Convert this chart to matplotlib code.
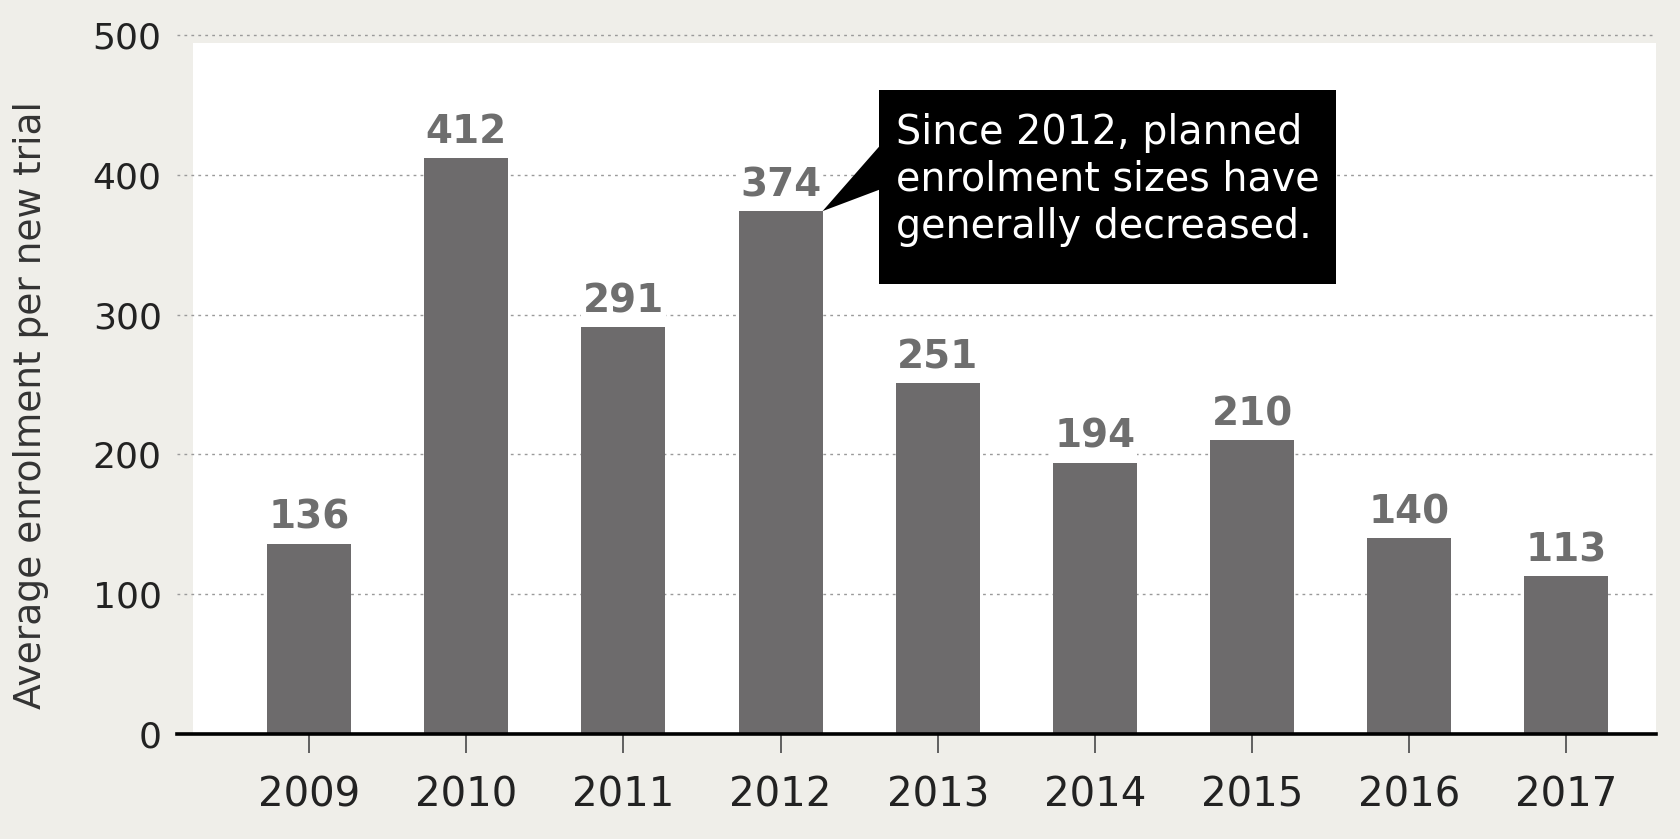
import matplotlib
matplotlib.use("Agg")
import matplotlib.pyplot as plt
from matplotlib.patches import Rectangle, Polygon

years = ["2009", "2010", "2011", "2012", "2013", "2014", "2015", "2016", "2017"]
enrolment = [136, 412, 291, 374, 251, 194, 210, 140, 113]
y_ticks = [0, 100, 200, 300, 400, 500]
y_label = "Average enrolment per new trial"
note_lines = ["Since 2012, planned", "enrolment sizes have", "generally decreased."]
note_year = "2012"

W, H = 1681, 839
fig = plt.figure(figsize=(W / 100, H / 100), dpi=100)
fig.patch.set_facecolor("#efeee9")

# white panel (background axes)
bg = fig.add_axes([193 / W, 1 - 734 / H, (1656 - 193) / W, (734 - 43) / H], zorder=-5)
bg.set_facecolor("white")
bg.set_xticks([]); bg.set_yticks([])
for s in bg.spines.values():
    s.set_visible(False)

ax = fig.add_axes([177 / W, 1 - 734 / H, (1656 - 177) / W, (734 - 35) / H], zorder=1)
ax.set_facecolor("none")

x = list(range(len(years)))
bar_w = 0.534
ax.bar(x, enrolment, width=bar_w, color="#6d6b6c", zorder=3)

ax.set_xlim(-0.84, 8.57)
ax.set_ylim(0, 500)

# grid
for t in y_ticks[1:]:
    ax.axhline(t, color="#9a9a9a", lw=1.0, ls=(0, (2, 3)), zorder=1, clip_on=False)

for s in ["left", "right", "top"]:
    ax.spines[s].set_visible(False)
ax.spines["bottom"].set_linewidth(2.6)
ax.spines["bottom"].set_color("black")
ax.spines["bottom"].set_zorder(5)

ax.set_xticks(x)
ax.set_xticklabels(years, fontsize=29, color="#222222")
ax.tick_params(axis="x", length=14, width=1.3, color="#555555", pad=16)
ax.set_yticks(y_ticks)
ax.set_yticklabels([str(t) for t in y_ticks], fontsize=26, color="#222222")
ax.tick_params(axis="y", length=0, pad=11)

ax.set_ylabel(y_label, fontsize=27, color="#333333")
ax.yaxis.set_label_coords(-0.0865, 0.47)

# value labels
for xi, v in zip(x, enrolment):
    ax.annotate(str(v), (xi, v), xytext=(0, 5), textcoords="offset points",
                ha="center", va="bottom", fontsize=28, fontweight="bold", color="#6e6e6e",
                zorder=4, bbox=dict(boxstyle="square,pad=0.05", fc="white", ec="none"))

# callout
i = years.index(note_year)
tip = (x[i] + bar_w / 2, enrolment[i])
bx0, bx1, by0, by1 = 3.625, 6.537, 321.9, 460.7
ax.add_patch(Rectangle((bx0, by0), bx1 - bx0, by1 - by0, facecolor="black", edgecolor="none", zorder=6))
ax.add_patch(Polygon([(bx0 + 0.05, 426.3), tip, (bx0 + 0.05, 391.3)], closed=True,
                     facecolor="black", edgecolor="none", zorder=6))
for line, yy in zip(note_lines, [430, 396.3, 362.7]):
    ax.text(3.733, yy, line, color="white", fontsize=28.5, ha="left", va="center", zorder=7)

fig.savefig("out.png", dpi=100, facecolor=fig.get_facecolor())
